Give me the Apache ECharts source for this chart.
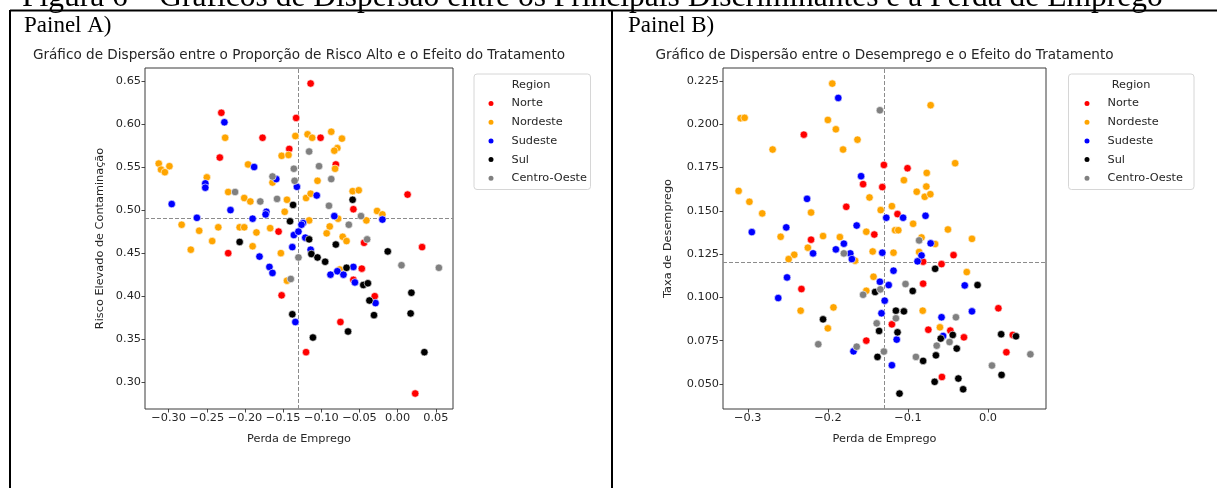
<!DOCTYPE html>
<html><head><meta charset="utf-8">
<script src="https://cdn.jsdelivr.net/npm/echarts@6/dist/echarts.min.js"></script>
<style>html,body{margin:0;padding:0;background:#fff;}#c{width:1217px;height:488px;}</style>
</head><body><div id="c"></div>
<script>
// ---------- DATA ----------
const regions = ['Norte', 'Nordeste', 'Sudeste', 'Sul', 'Centro-Oeste'];
const regionColors = ['#ff0000', '#ffa500', '#0000ff', '#000000', '#808080'];

// Panel A: x = Perda de Emprego, y = Risco Elevado de Contaminação
const aNorte = [[-0.114,0.647],[-0.231,0.613],[-0.233,0.561],[-0.177,0.584],[-0.133,0.607],[-0.142,0.571],[-0.101,0.584],[-0.081,0.553],[0.013,0.518],[-0.058,0.501],[-0.156,0.475],[-0.222,0.450],[-0.044,0.462],[0.032,0.457],[-0.152,0.401],[-0.047,0.432],[-0.058,0.419],[-0.030,0.400],[-0.075,0.370],[-0.120,0.335],[0.023,0.287]];
const aNordeste = [[-0.226,0.584],[-0.134,0.586],[-0.152,0.563],[-0.143,0.564],[-0.118,0.588],[-0.112,0.584],[-0.087,0.591],[-0.073,0.583],[-0.079,0.572],[-0.083,0.569],[-0.082,0.548],[-0.313,0.554],[-0.310,0.547],[-0.305,0.544],[-0.299,0.551],[-0.196,0.553],[-0.250,0.538],[-0.164,0.532],[-0.105,0.534],[-0.059,0.522],[-0.051,0.523],[-0.222,0.521],[-0.201,0.514],[-0.193,0.510],[-0.145,0.512],[-0.148,0.498],[-0.120,0.514],[-0.114,0.519],[-0.078,0.490],[-0.041,0.488],[-0.027,0.499],[-0.020,0.495],[-0.116,0.488],[-0.089,0.481],[-0.283,0.483],[-0.260,0.476],[-0.235,0.480],[-0.207,0.480],[-0.201,0.480],[-0.167,0.479],[-0.185,0.474],[-0.243,0.464],[-0.271,0.454],[-0.190,0.458],[-0.153,0.450],[-0.093,0.473],[-0.072,0.469],[-0.067,0.464],[-0.145,0.418],[-0.076,0.431]];
const aSudeste = [[-0.227,0.602],[-0.188,0.550],[-0.252,0.531],[-0.252,0.526],[-0.159,0.536],[-0.132,0.527],[-0.296,0.507],[-0.263,0.491],[-0.219,0.500],[-0.172,0.498],[-0.173,0.495],[-0.190,0.490],[-0.106,0.517],[-0.083,0.493],[-0.020,0.489],[-0.124,0.485],[-0.126,0.483],[-0.181,0.446],[-0.136,0.471],[-0.130,0.475],[-0.121,0.468],[-0.138,0.457],[-0.114,0.454],[-0.168,0.434],[-0.164,0.427],[-0.088,0.425],[-0.079,0.429],[-0.071,0.425],[-0.058,0.434],[-0.056,0.416],[-0.029,0.392],[-0.134,0.370]];
const aSul = [[-0.137,0.506],[-0.059,0.512],[-0.141,0.487],[-0.207,0.463],[-0.116,0.466],[-0.113,0.449],[-0.105,0.445],[-0.095,0.440],[-0.081,0.460],[-0.013,0.452],[-0.067,0.433],[-0.045,0.413],[-0.039,0.415],[-0.037,0.395],[-0.031,0.378],[0.018,0.404],[0.017,0.380],[-0.065,0.359],[-0.138,0.379],[-0.111,0.352],[0.035,0.335]];
const aCentroOeste = [[-0.116,0.568],[-0.103,0.551],[-0.136,0.548],[-0.164,0.539],[-0.135,0.534],[-0.087,0.536],[-0.213,0.521],[-0.180,0.510],[-0.158,0.513],[-0.090,0.505],[-0.048,0.493],[-0.064,0.483],[-0.130,0.445],[-0.040,0.466],[0.005,0.436],[0.054,0.433],[-0.140,0.420]];

// Panel B: x = Perda de Emprego, y = Taxa de Desemprego
const bNorte = [[-0.230,0.194],[-0.130,0.1765],[-0.1005,0.1746],[-0.156,0.1654],[-0.132,0.1637],[-0.177,0.1523],[-0.113,0.1481],[-0.221,0.1333],[-0.142,0.1363],[-0.081,0.1206],[-0.043,0.1244],[-0.058,0.1192],[-0.233,0.1048],[-0.081,0.1079],[0.013,0.0937],[-0.120,0.0844],[-0.0745,0.0813],[-0.047,0.0808],[-0.030,0.0769],[0.031,0.0783],[0.023,0.0683],[-0.152,0.075],[-0.0575,0.054]];
const bNordeste = [[-0.1945,0.2235],[-0.0716,0.211],[-0.309,0.2035],[-0.304,0.2037],[-0.200,0.2025],[-0.190,0.1971],[-0.163,0.1911],[-0.269,0.1854],[-0.181,0.1854],[-0.041,0.1775],[-0.0765,0.1719],[-0.105,0.1677],[-0.077,0.164],[-0.089,0.161],[-0.079,0.1581],[-0.072,0.1596],[-0.3115,0.1615],[-0.298,0.1552],[-0.148,0.1577],[-0.282,0.1485],[-0.221,0.149],[-0.134,0.1504],[-0.120,0.1527],[-0.259,0.135],[-0.206,0.1354],[-0.225,0.1287],[-0.242,0.1246],[-0.249,0.1221],[-0.185,0.1348],[-0.166,0.1212],[-0.152,0.1379],[-0.144,0.1265],[-0.116,0.1388],[-0.112,0.1388],[-0.118,0.1258],[-0.0935,0.1425],[-0.083,0.1346],[-0.086,0.1262],[-0.066,0.1308],[-0.050,0.1392],[-0.020,0.1338],[-0.0265,0.1146],[-0.234,0.0923],[-0.193,0.0942],[-0.143,0.1119],[-0.152,0.1038],[-0.200,0.0821],[-0.0815,0.0923],[-0.060,0.0827]];
const bSudeste = [[-0.187,0.2152],[-0.1585,0.170],[-0.226,0.1569],[-0.127,0.146],[-0.106,0.146],[-0.078,0.1471],[-0.295,0.1377],[-0.252,0.1404],[-0.2185,0.1254],[-0.180,0.131],[-0.190,0.1277],[-0.172,0.1254],[-0.170,0.1221],[-0.164,0.1415],[-0.132,0.1258],[-0.083,0.1242],[-0.088,0.1208],[-0.0716,0.1312],[-0.118,0.1154],[-0.251,0.1115],[-0.262,0.0996],[-0.135,0.109],[-0.124,0.1071],[-0.129,0.0981],[-0.029,0.1069],[-0.133,0.0908],[-0.020,0.0919],[-0.058,0.0885],[-0.114,0.0756],[-0.056,0.0777],[-0.168,0.0688],[-0.120,0.0608]];
const bSul = [[-0.066,0.1165],[-0.141,0.1031],[-0.094,0.1037],[-0.013,0.1071],[-0.206,0.0873],[-0.115,0.0923],[-0.105,0.0919],[-0.136,0.0806],[-0.113,0.0798],[-0.044,0.0783],[-0.059,0.0762],[-0.039,0.0704],[0.0165,0.0787],[0.035,0.0775],[0.017,0.0552],[-0.138,0.0656],[-0.081,0.0633],[-0.065,0.0665],[-0.0666,0.0512],[-0.037,0.0531],[-0.031,0.0469],[-0.1105,0.0444]];
const bCentroOeste = [[-0.135,0.2081],[-0.180,0.1254],[-0.086,0.1329],[-0.1345,0.1046],[-0.156,0.1015],[-0.103,0.1077],[-0.212,0.0729],[-0.115,0.0879],[-0.040,0.0885],[-0.139,0.085],[-0.048,0.0742],[-0.064,0.0721],[0.053,0.0671],[0.005,0.0606],[-0.164,0.0715],[-0.130,0.0687],[-0.090,0.0656]];

// mean reference lines
const meanLinesA = { x: -0.1254, y: 0.4864 };
const meanLinesB = { x: -0.1254, y: 0.1190 };

// tick values
const xTicksA = [-0.30, -0.25, -0.20, -0.15, -0.10, -0.05, 0.00, 0.05];
const yTicksA = [0.30, 0.35, 0.40, 0.45, 0.50, 0.55, 0.60, 0.65];
const xTicksB = [-0.3, -0.2, -0.1, 0.0];
const yTicksB = [0.050, 0.075, 0.100, 0.125, 0.150, 0.175, 0.200, 0.225];

// texts
const figureTitle = 'Figura 6 – Gráficos de Dispersão entre os Principais Discriminantes e a Perda de Emprego';
const panelLabels = ['Painel A)', 'Painel B)'];
const chartTitles = ['Gráfico de Dispersão entre o Proporção de Risco Alto e o Efeito do Tratamento',
                     'Gráfico de Dispersão entre o Desemprego e o Efeito do Tratamento'];
const xAxisNames = ['Perda de Emprego', 'Perda de Emprego'];
const yAxisNames = ['Risco Elevado de Contaminação', 'Taxa de Desemprego'];
const legendTitle = 'Region';

// ---------- CHART ----------
const FONT = '"DejaVu Sans", sans-serif';
const SERIF = '"Liberation Serif", "Times New Roman", serif';
const TXT = '#262626';
const FS = 11.3;
const fmt = d => v => v.toFixed(d).replace('-', '\u2212');

const panelA = [aNorte, aNordeste, aSudeste, aSul, aCentroOeste];
const panelB = [bNorte, bNordeste, bSudeste, bSul, bCentroOeste];

const grids = [
  { left: 145, top: 68, width: 308, height: 341 },
  { left: 723, top: 68, width: 323, height: 341 }
];

function xAxisFor(i, ticks, dec) {
  return {
    type: 'value', gridIndex: i, min: -0.331, max: 0.0725,
    splitLine: { show: false },
    axisLine: { show: false, onZero: false },
    axisTick: { show: true, customValues: ticks, length: 3.5, lineStyle: { color: '#333', width: 0.9 } },
    axisLabel: { customValues: ticks, formatter: fmt(dec), fontFamily: FONT, fontSize: FS, color: TXT, margin: 4 },
    name: xAxisNames[i], nameLocation: 'middle', nameGap: 25,
    nameTextStyle: { fontFamily: FONT, fontSize: FS, color: TXT }
  };
}
function yAxisFor(i, ticks, dec, min, max, gap) {
  return {
    type: 'value', gridIndex: i, min: min, max: max,
    splitLine: { show: false },
    axisLine: { show: false, onZero: false },
    axisTick: { show: true, customValues: ticks, length: 3.5, lineStyle: { color: '#333', width: 0.9 } },
    axisLabel: { customValues: ticks, formatter: fmt(dec), fontFamily: FONT, fontSize: FS, color: TXT, margin: 4 },
    name: yAxisNames[i], nameLocation: 'middle', nameGap: gap,
    nameTextStyle: { fontFamily: FONT, fontSize: FS, color: TXT }
  };
}

const series = [];
[panelA, panelB].forEach((panel, p) => {
  panel.forEach((data, r) => {
    const s = {
      type: 'scatter', name: regions[r], xAxisIndex: p, yAxisIndex: p,
      data: data, symbol: 'circle', symbolSize: 7.5,
      itemStyle: { color: regionColors[r], borderColor: '#fff', borderWidth: 0.6, opacity: 1 },
      emphasis: { disabled: true }, z: 3
    };
    if (r === 0) {
      const m = p === 0 ? meanLinesA : meanLinesB;
      s.markLine = {
        silent: true, symbol: ['none', 'none'], animation: false,
        label: { show: false }, emphasis: { disabled: true },
        lineStyle: { color: '#8c8c8c', type: [4, 2], width: 1 },
        data: [{ xAxis: m.x }, { yAxis: m.y }], z: 1
      };
    }
    series.push(s);
  });
});

function legendFor(left) {
  return {
    orient: 'vertical', left: left, top: 96.5, padding: 0,
    itemWidth: 7, itemHeight: 7, itemGap: 4.7, icon: 'circle',
    selectedMode: false,
    textStyle: { fontFamily: FONT, fontSize: FS, color: TXT, lineHeight: 14, padding: [0, 0, 0, 12] },
    data: regions
  };
}

const graphic = [
  { type: 'text', x: 22, y: -2.6, style: { text: figureTitle, font: '31.5px ' + SERIF, fill: '#000', verticalAlign: 'middle', textAlign: 'left' } },
  { type: 'line', shape: { x1: 10, y1: 10.5, x2: 1217, y2: 10.5 }, style: { stroke: '#000', lineWidth: 2 } },
  { type: 'line', shape: { x1: 10, y1: 10, x2: 10, y2: 488 }, style: { stroke: '#000', lineWidth: 2 } },
  { type: 'line', shape: { x1: 612, y1: 10, x2: 612, y2: 488 }, style: { stroke: '#000', lineWidth: 2 } },
  { type: 'text', x: 24, y: 26, style: { text: panelLabels[0], font: '23px ' + SERIF, fill: '#000', verticalAlign: 'middle' } },
  { type: 'text', x: 628, y: 26, style: { text: panelLabels[1], font: '23px ' + SERIF, fill: '#000', verticalAlign: 'middle' } },
  { type: 'text', x: 299, y: 55, style: { text: chartTitles[0], font: '13.6px ' + FONT, fill: TXT, textAlign: 'center', verticalAlign: 'middle' } },
  { type: 'text', x: 884.5, y: 55, style: { text: chartTitles[1], font: '13.6px ' + FONT, fill: TXT, textAlign: 'center', verticalAlign: 'middle' } },
  { type: 'rect', shape: { x: 474, y: 74, width: 116.5, height: 115.5, r: 3 }, style: { fill: '#fff', stroke: '#d6d6d6', lineWidth: 1 }, z: 0 },
  { type: 'rect', shape: { x: 1068.5, y: 74, width: 125.5, height: 115.5, r: 3 }, style: { fill: '#fff', stroke: '#d6d6d6', lineWidth: 1 }, z: 0 },
  { type: 'text', x: 531, y: 85, style: { text: legendTitle, font: FS + 'px ' + FONT, fill: TXT, textAlign: 'center', verticalAlign: 'middle' } },
  { type: 'text', x: 1131, y: 85, style: { text: legendTitle, font: FS + 'px ' + FONT, fill: TXT, textAlign: 'center', verticalAlign: 'middle' } }
];

const chart = echarts.init(document.getElementById('c'), null, { renderer: 'canvas' });
chart.setOption({
  animation: false,
  backgroundColor: '#fff',
  grid: grids.map(g => Object.assign({ show: true, borderColor: '#3a3a3a', borderWidth: 1, backgroundColor: 'transparent', containLabel: false }, g)),
  xAxis: [xAxisFor(0, xTicksA, 2), xAxisFor(1, xTicksB, 1)],
  yAxis: [yAxisFor(0, yTicksA, 2, 0.269, 0.665, 39), yAxisFor(1, yTicksB, 3, 0.0355, 0.2325, 49)],
  legend: [legendFor(486.5), legendFor(1082.5)],
  graphic: graphic,
  series: series
});
</script></body></html>
